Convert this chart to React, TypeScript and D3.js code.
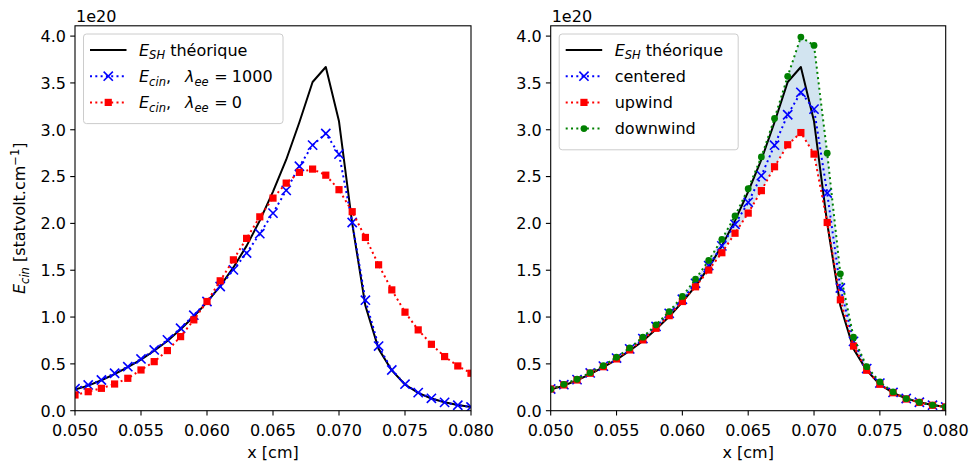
import React from 'react';
import * as d3 from 'd3';

const xs = [0.050, 0.051, 0.052, 0.053, 0.054, 0.055, 0.056, 0.057, 0.058, 0.059, 0.060, 0.061, 0.062, 0.063, 0.064, 0.065, 0.066, 0.067, 0.068, 0.069, 0.070, 0.071, 0.072, 0.073, 0.074, 0.075, 0.076, 0.077, 0.078, 0.079, 0.080];

const theory = [0.225, 0.268, 0.325, 0.39, 0.465, 0.545, 0.64, 0.745, 0.87, 1.005, 1.16, 1.33, 1.53, 1.76, 2.03, 2.34, 2.68, 3.08, 3.51, 3.67, 3.09, 2.0, 1.12, 0.66, 0.43, 0.28, 0.19, 0.13, 0.09, 0.06, 0.04];

const cinLambda1000 = [0.235, 0.275, 0.328, 0.40, 0.47, 0.553, 0.649, 0.756, 0.88, 1.02, 1.166, 1.326, 1.504, 1.683, 1.89, 2.11, 2.353, 2.61, 2.836, 2.96, 2.74, 2.01, 1.18, 0.69, 0.435, 0.283, 0.193, 0.132, 0.089, 0.058, 0.04];

const cinLambda0 = [0.168, 0.203, 0.239, 0.285, 0.346, 0.435, 0.524, 0.642, 0.791, 0.97, 1.166, 1.387, 1.611, 1.84, 2.07, 2.27, 2.43, 2.545, 2.58, 2.515, 2.36, 2.125, 1.85, 1.558, 1.29, 1.052, 0.863, 0.709, 0.578, 0.478, 0.40];

const centered = [0.232, 0.278, 0.332, 0.403, 0.476, 0.562, 0.66, 0.77, 0.90, 1.04, 1.19, 1.36, 1.55, 1.76, 1.99, 2.225, 2.51, 2.835, 3.16, 3.40, 3.22, 2.325, 1.31, 0.74, 0.45, 0.295, 0.195, 0.13, 0.09, 0.059, 0.04];

const upwind = [0.232, 0.275, 0.328, 0.40, 0.47, 0.553, 0.649, 0.756, 0.88, 1.015, 1.166, 1.323, 1.502, 1.687, 1.895, 2.11, 2.35, 2.605, 2.84, 2.97, 2.74, 2.01, 1.184, 0.69, 0.432, 0.282, 0.192, 0.125, 0.088, 0.058, 0.04];

const downwind = [0.229, 0.282, 0.336, 0.406, 0.481, 0.571, 0.67, 0.785, 0.917, 1.059, 1.22, 1.405, 1.604, 1.83, 2.08, 2.37, 2.71, 3.12, 3.57, 3.99, 3.90, 2.75, 1.462, 0.785, 0.47, 0.307, 0.2, 0.128, 0.09, 0.06, 0.04];

const xTicks = [0.050, 0.055, 0.060, 0.065, 0.070, 0.075, 0.080];
const yTicks = [0.0, 0.5, 1.0, 1.5, 2.0, 2.5, 3.0, 3.5, 4.0];

const FONT = "'DejaVu Sans', sans-serif";
const FS = 16;
const SUB = 11.5;
const TOP = 25.8;
const BOTTOM = 410.7;
const YMAX = 4.11;

type MarkerType = 'x' | 's' | 'o' | 'none';

function Marker({ type, cx, cy, color }: { type: MarkerType; cx: number; cy: number; color: string }) {
  if (type === 'x') {
    const h = 4.6;
    return (
      <g stroke={color} strokeWidth={1.6}>
        <line x1={cx - h} y1={cy - h} x2={cx + h} y2={cy + h} />
        <line x1={cx - h} y1={cy + h} x2={cx + h} y2={cy - h} />
      </g>
    );
  }
  if (type === 's') {
    const h = 3.6;
    return <rect x={cx - h} y={cy - h} width={2 * h} height={2 * h} fill={color} />;
  }
  if (type === 'o') {
    return <circle cx={cx} cy={cy} r={3.4} fill={color} />;
  }
  return null;
}

interface Series {
  values: number[];
  color: string;
  marker: MarkerType;
  dotted: boolean;
}

interface LegendRow {
  series: Series;
  label: React.ReactNode;
}

function Panel({ id, left, right, series, fill, legend, legendWidth, showYLabel }: {
  id: string; left: number; right: number; series: Series[];
  fill?: { lo: number[]; hi: number[] }; legend: LegendRow[]; legendWidth: number; showYLabel: boolean;
}) {
  const x = d3.scaleLinear().domain([0.05, 0.08]).range([left, right]);
  const y = d3.scaleLinear().domain([0, YMAX]).range([BOTTOM, TOP]);
  const lineGen = d3.line<number>().x((_, i) => x(xs[i])).y((d) => y(d));
  const areaGen = fill
    ? d3.area<number>().x((i) => x(xs[i])).y0((i) => y(fill.lo[i])).y1((i) => y(fill.hi[i]))
    : null;
  const clip = `clip-${id}`;
  const lgX = left + 8.5;
  const lgY = 34;
  const rowH = 26.2;
  const lgH = 16 + rowH * legend.length - 5;
  return (
    <g>
      <defs>
        <clipPath id={clip}>
          <rect x={left} y={TOP} width={right - left} height={BOTTOM - TOP} />
        </clipPath>
      </defs>
      <g clipPath={`url(#${clip})`}>
        {areaGen && fill && (
          <path d={areaGen(xs.map((_, i) => i)) || ''} fill="#1f77b4" fillOpacity={0.2} stroke="none" />
        )}
        {series.map((s, k) => (
          <g key={k}>
            <path
              d={lineGen(s.values) || ''}
              fill="none"
              stroke={s.color}
              strokeWidth={2}
              strokeDasharray={s.dotted ? '2 3.3' : undefined}
              strokeLinejoin="round"
            />
            {s.values.map((v, i) => (
              <Marker key={i} type={s.marker} cx={x(xs[i])} cy={y(v)} color={s.color} />
            ))}
          </g>
        ))}
      </g>
      <rect x={left} y={TOP} width={right - left} height={BOTTOM - TOP} fill="none" stroke="#000" strokeWidth={1.1} />
      {xTicks.map((t) => (
        <g key={t}>
          <line x1={x(t)} x2={x(t)} y1={BOTTOM} y2={BOTTOM + 4.8} stroke="#000" strokeWidth={1.1} />
          <text x={x(t)} y={BOTTOM + 25.5} textAnchor="middle" fontFamily={FONT} fontSize={FS} fill="#000">
            {t.toFixed(3)}
          </text>
        </g>
      ))}
      {yTicks.map((t) => (
        <g key={t}>
          <line x1={left - 4.8} x2={left} y1={y(t)} y2={y(t)} stroke="#000" strokeWidth={1.1} />
          <text x={left - 9} y={y(t) + 5.8} textAnchor="end" fontFamily={FONT} fontSize={FS} fill="#000">
            {t.toFixed(1)}
          </text>
        </g>
      ))}
      <text x={left + 1} y={21.5} fontFamily={FONT} fontSize={FS} fill="#000">1e20</text>
      <text x={(left + right) / 2} y={458} textAnchor="middle" fontFamily={FONT} fontSize={FS} fill="#000">x [cm]</text>
      {showYLabel && (
        <text transform={`translate(25,${(TOP + BOTTOM) / 2}) rotate(-90)`} textAnchor="middle" fontFamily={FONT} fontSize={FS} fill="#000">
          <tspan fontStyle="italic">E</tspan>
          <tspan fontStyle="italic" fontSize={SUB} dy={3.5}>cin</tspan>
          <tspan dy={-3.5}> [statvolt.cm</tspan>
          <tspan fontSize={SUB} dy={-6}>−1</tspan>
          <tspan dy={6}>]</tspan>
        </text>
      )}
      <g>
        <rect x={lgX} y={lgY} width={legendWidth} height={lgH} rx={3} fill="#fff" fillOpacity={0.8} stroke="#cccccc" strokeWidth={1} />
        {legend.map((r, k) => {
          const cy = lgY + 16 + k * rowH;
          const sx0 = lgX + 6.5;
          const sx1 = lgX + 43;
          return (
            <g key={k}>
              <line x1={sx0} x2={sx1} y1={cy} y2={cy} stroke={r.series.color} strokeWidth={2}
                strokeDasharray={r.series.dotted ? '2 3.3' : undefined} />
              <Marker type={r.series.marker} cx={(sx0 + sx1) / 2} cy={cy} color={r.series.color} />
              <text x={lgX + 55.5} y={cy + 5.8} fontFamily={FONT} fontSize={FS} fill="#000">
                {r.label}
              </text>
            </g>
          );
        })}
      </g>
    </g>
  );
}

const esh = (
  <>
    <tspan fontStyle="italic">E</tspan>
    <tspan fontStyle="italic" fontSize={SUB} dy={3.5}>SH</tspan>
    <tspan dy={-3.5}> théorique</tspan>
  </>
);

const ecin = (lam: string) => (
  <>
    <tspan fontStyle="italic">E</tspan>
    <tspan fontStyle="italic" fontSize={SUB} dy={3.5}>cin</tspan>
    <tspan dy={-3.5}>,</tspan>
    <tspan fontStyle="italic" dx={14}>λ</tspan>
    <tspan fontStyle="italic" fontSize={SUB} dy={3.5}>ee</tspan>
    <tspan dy={-3.5} dx={5.5}>=</tspan>
    <tspan dx={4.3}>{lam}</tspan>
  </>
);

export default function App() {
  const sTheory: Series = { values: theory, color: '#000000', marker: 'none', dotted: false };
  const s1000: Series = { values: cinLambda1000, color: '#0000ff', marker: 'x', dotted: true };
  const s0: Series = { values: cinLambda0, color: '#ff0000', marker: 's', dotted: true };
  const sCen: Series = { values: centered, color: '#0000ff', marker: 'x', dotted: true };
  const sUp: Series = { values: upwind, color: '#ff0000', marker: 's', dotted: true };
  const sDown: Series = { values: downwind, color: '#008000', marker: 'o', dotted: true };
  return (
    <svg width={971} height={465} style={{ position: 'absolute', left: 0, top: 0, background: '#fff' }}>
      <rect x={0} y={0} width={971} height={465} fill="#fff" />
      <Panel
        id="left"
        left={75}
        right={471}
        series={[sTheory, s1000, s0]}
        legend={[
          { series: sTheory, label: esh },
          { series: s1000, label: ecin('1000') },
          { series: s0, label: ecin('0') },
        ]}
        legendWidth={199.5}
        showYLabel={true}
      />
      <Panel
        id="right"
        left={550.7}
        right={945.7}
        series={[sTheory, sCen, sUp, sDown]}
        fill={{ lo: upwind, hi: downwind }}
        legend={[
          { series: sTheory, label: esh },
          { series: sCen, label: 'centered' },
          { series: sUp, label: 'upwind' },
          { series: sDown, label: 'downwind' },
        ]}
        legendWidth={179}
        showYLabel={false}
      />
    </svg>
  );
}
